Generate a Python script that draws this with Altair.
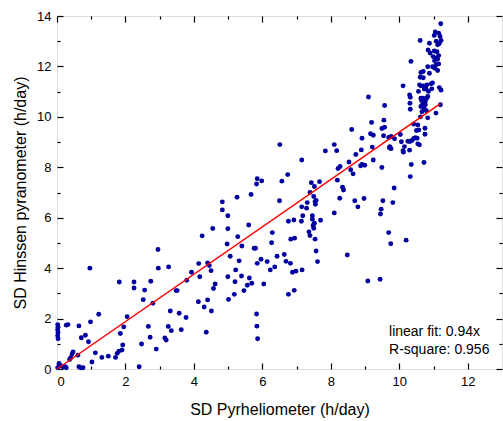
import altair as alt
import pandas as pd

# SD from pyrheliometer (x) and Hinssen pyranometer (y), h/day
sd_pyr = [
    0.03, 0.02, 0.03, 0.02, 0.03, 0.02, 0.27, 0.32, 0.64, 0.98, 1.22,
    0.71, 0.83, 0.92, 1.12, 1.02, 1.31, 1.50, 1.71, 1.76, 1.81, 1.90, 1.92, 1.85, 1.95, 2.05,
    0.06, 0.10, 0.17, 0.24, 0.27, 0.02, 0.37, 0.44, 0.47, 0.40, 0.61, 0.64, 0.69, 0.76, 0.96,
    1.82, 2.25, 2.25, 2.52, 2.56, 2.74, 2.80, 2.67, 2.72, 2.47, 2.40, 2.90, 2.96, 2.95, 3.26,
    3.31, 3.25, 3.34, 3.15, 3.19, 3.48, 3.51, 3.57, 3.63, 3.77, 3.79, 3.93, 4.14, 4.17, 4.24,
    4.13, 4.30, 4.40, 4.51, 4.36, 4.40, 4.45, 4.50, 4.57, 4.62, 4.55, 4.83, 4.83,
    4.99, 4.99, 4.97, 5.06, 4.99, 5.01, 5.18, 5.20, 5.22, 5.32, 5.28, 5.40, 5.26, 5.39, 5.46,
    5.56, 5.62, 5.69, 5.60, 5.67, 5.76, 5.80, 5.85, 5.83, 5.83, 5.85, 5.98, 5.96, 6.04, 6.14,
    6.23, 6.27, 6.29, 6.36, 6.43, 6.50, 6.51, 6.57, 6.64, 6.69, 6.74, 6.76, 6.76, 6.82, 6.83,
    6.88, 6.92, 6.94, 6.98, 6.93, 7.14, 7.15, 7.15, 7.16, 7.18, 7.29, 7.31, 7.36, 7.39, 7.39,
    7.43, 7.46, 7.46, 7.48, 7.50, 7.52, 7.50, 7.52, 7.54, 7.55, 7.57, 7.54, 7.57, 7.61, 7.67,
    7.70, 7.84, 8.10, 8.10, 8.17, 8.19, 8.21, 8.27, 8.26, 8.34, 8.37, 8.48, 8.53, 8.58, 8.65,
    8.61, 8.70, 8.73, 8.79, 8.89, 8.91, 8.87, 8.99, 8.91, 8.97, 9.08, 9.10, 9.19, 9.16, 9.24,
    9.21, 9.24, 5.84, 5.86,
    9.44, 9.69, 9.75, 10.20, 9.45, 9.47, 9.52, 9.81, 9.85, 9.49, 9.57, 9.55, 9.49, 9.57, 9.54,
    9.69, 9.76, 9.72, 9.76, 9.71, 9.86, 10.03, 10.06, 10.11, 10.12, 10.15, 10.25, 10.31, 10.37,
    10.30, 10.35, 10.32, 10.42, 10.47, 10.52, 10.54, 10.59, 10.50, 10.54, 10.42, 10.57, 10.75,
    10.75, 10.72, 10.62, 10.83, 10.11, 10.30, 10.32, 10.31, 10.32, 10.34, 10.61, 10.56, 10.59,
    10.63, 10.61, 10.70, 10.63, 10.70, 10.63, 10.65, 10.68, 10.76, 10.63, 10.73, 10.66, 10.79,
    10.76, 10.80, 10.83, 10.78, 10.85, 10.71, 10.73, 10.81, 10.93, 10.95, 10.88, 10.97, 11.04,
    10.88, 10.84, 10.90, 11.02, 11.05, 11.15, 11.08, 11.17, 11.19, 11.21, 11.22, 11.12, 11.02,
    11.10, 10.99, 11.09, 11.15, 11.03, 11.12, 11.07, 11.15, 11.12, 11.17, 11.22, 10.97, 10.83,
    10.69, 11.07, 11.20,
]
sd_hinssen = [
    1.20, 1.32, 1.45, 1.56, 1.66, 1.76, 1.74, 1.76, 1.71, 1.87, 2.17,
    1.24, 1.34, 1.08, 0.64, 0.28, 0.46, 0.51, 0.46, 0.62, 0.71, 0.75, 0.95, 1.41, 1.67, 2.07,
    0.22, 0.13, 0.09, 0.09, 0.05, 0.05, 0.38, 0.59, 0.68, 0.45, 0.55, 0.09, 0.05, 0.05, 4.00,
    3.45, 3.45, 3.21, 2.75, 3.13, 3.48, 2.61, 1.69, 1.26, 0.99, 0.09, 0.79, 4.00, 4.74, 4.05,
    2.30, 1.69, 1.52, 1.23, 1.15, 3.11, 3.11, 2.21, 1.56, 2.04, 3.52, 3.84, 4.18, 3.66, 5.28,
    2.67, 2.46, 2.74, 2.30, 1.46, 4.21, 4.10, 3.90, 3.19, 3.37, 5.57, 6.63, 6.31,
    6.08, 5.56, 4.96, 4.47, 3.66, 2.76, 2.96, 3.46, 3.93, 4.29, 5.25, 4.88, 6.81, 3.69, 3.11,
    3.32, 3.61, 3.40, 5.71, 6.92, 4.79, 4.79, 4.19, 2.18, 7.34, 7.55, 7.46, 4.35, 3.37, 4.26,
    3.93, 5.01, 5.41, 4.05, 4.47, 6.67, 8.90, 7.45, 4.54, 4.27, 7.71, 5.86, 2.96, 4.19, 5.15,
    3.84, 5.91, 5.19, 3.88, 3.12, 5.86, 6.43, 8.29, 3.93, 6.08, 6.38, 6.60, 5.44, 7.00, 5.29,
    7.39, 6.08, 5.94, 5.69, 5.58, 5.78, 6.84, 7.24, 6.64, 6.53, 6.68, 5.15, 4.68, 4.26, 7.43,
    5.90, 8.65, 8.90, 6.19, 8.66, 7.49, 7.95, 8.03, 6.77, 7.21, 7.10, 4.52, 8.21, 7.90, 7.74,
    9.50, 6.67, 8.51, 6.43, 8.69, 9.15, 8.06, 8.08, 8.11, 6.76, 3.49, 10.79, 9.78, 9.33, 9.27,
    8.80, 8.29, 1.70, 1.20,
    3.56, 5.41, 4.97, 5.11, 6.15, 6.34, 6.67, 6.60, 7.18, 7.99, 10.45, 9.87, 9.54, 9.59, 9.25,
    9.18, 9.22, 8.82, 8.74, 8.77, 9.13, 9.30, 9.01, 8.66, 8.60, 8.82, 9.03, 9.02, 9.06,
    8.68, 8.11, 7.63, 9.14, 9.17, 9.15, 8.93, 8.89, 9.46, 9.68, 9.71, 9.48, 9.55,
    9.31, 8.19, 10.00, 9.96, 11.23, 10.87, 10.78, 10.54, 10.30, 12.20, 13.03, 11.01, 11.27,
    11.23, 11.57, 11.55, 11.76, 11.80, 10.74, 10.65, 10.50, 10.48, 10.41, 10.32, 10.20, 10.24,
    10.61, 10.74, 10.81, 11.11, 11.01, 11.23, 11.10, 11.27, 11.31, 11.11, 11.73, 11.99, 11.93,
    12.92, 12.65, 12.53, 13.23, 13.37, 13.32, 13.00, 12.91, 13.19, 13.69, 13.03, 12.86, 12.61,
    12.58, 12.39, 12.34, 12.43, 12.23, 12.29, 12.06, 12.10, 11.84, 11.16, 11.06, 11.34, 11.99,
    10.74, 10.15, 10.48,
]

fit_slope = 0.94
fit_x = [0.0, 11.2]
fit_y = [fit_slope * v for v in fit_x]

notes = ["linear fit: 0.94x", "R-square: 0.956"]
note_x = [9.7, 9.7]
note_y = [1.47, 0.75]

major_x = [0, 2, 4, 6, 8, 10, 12]
minor_x = [1, 3, 5, 7, 9, 11]
major_y = [0, 2, 4, 6, 8, 10, 12, 14]
minor_y = [1, 3, 5, 7, 9, 11, 13]

pts = pd.DataFrame({"x": sd_pyr, "y": sd_hinssen})
fit = pd.DataFrame({"x": fit_x, "y": fit_y})
txt = pd.DataFrame({"x": note_x, "y": note_y, "t": notes})

FONT = "Liberation Sans"
xs = alt.Scale(domain=[0, 13], nice=False, zero=False)
ys = alt.Scale(domain=[0, 14], nice=False, zero=False)


def ax(orient, values, size, labels=False, title=None, title_pad=8):
    kw = dict(orient=orient, values=values, tickSize=size, offset=-size,
              domain=False, grid=False, labels=labels, tickColor="black",
              tickWidth=1.2, labelFont=FONT, labelFontSize=13, labelColor="black",
              labelPadding=6, titleFont=FONT, titleFontSize=16,
              titleFontWeight="normal", titleColor="black")
    if title is not None:
        kw["title"] = title
        kw["titlePadding"] = title_pad
    else:
        kw["title"] = None
    return alt.Axis(**kw)


points = alt.Chart(pts).mark_circle(size=24, color="#0000A0", opacity=1).encode(
    x=alt.X("x:Q", scale=xs, axis=ax("bottom", major_x, 6, True, "SD Pyrheliometer (h/day)", 13)),
    y=alt.Y("y:Q", scale=ys, axis=ax("left", major_y, 6, True, "SD Hinssen pyranometer (h/day)", 8)),
)

line = alt.Chart(fit).mark_line(color="red", strokeWidth=1.5).encode(
    x=alt.X("x:Q", scale=xs, axis=ax("bottom", minor_x, 3)),
    y=alt.Y("y:Q", scale=ys, axis=ax("left", minor_y, 3)),
)

top_right = alt.Chart(fit).mark_point(opacity=0).encode(
    x=alt.X("x:Q", scale=xs, axis=ax("top", major_x, 6)),
    y=alt.Y("y:Q", scale=ys, axis=ax("right", major_y, 6)),
)

top_right_minor = alt.Chart(fit).mark_point(opacity=0).encode(
    x=alt.X("x:Q", scale=xs, axis=ax("top", minor_x, 3)),
    y=alt.Y("y:Q", scale=ys, axis=ax("right", minor_y, 3)),
)

labels = alt.Chart(txt).mark_text(align="left", baseline="middle", font=FONT,
                                  fontSize=14, color="black").encode(
    x=alt.X("x:Q", scale=xs, axis=None),
    y=alt.Y("y:Q", scale=ys, axis=None),
    text="t:N",
)

chart = alt.layer(points, line, top_right, top_right_minor, labels).resolve_axis(
    x="independent", y="independent"
).properties(
    width=445, height=353,
    autosize=alt.AutoSizeParams(type="none"),
    padding={"left": 57, "top": 16, "right": 1, "bottom": 52},
).configure_view(stroke="black", strokeWidth=1.5).configure(background="white")

chart.save("out.html", embed_options={"renderer": "svg", "actions": False})
